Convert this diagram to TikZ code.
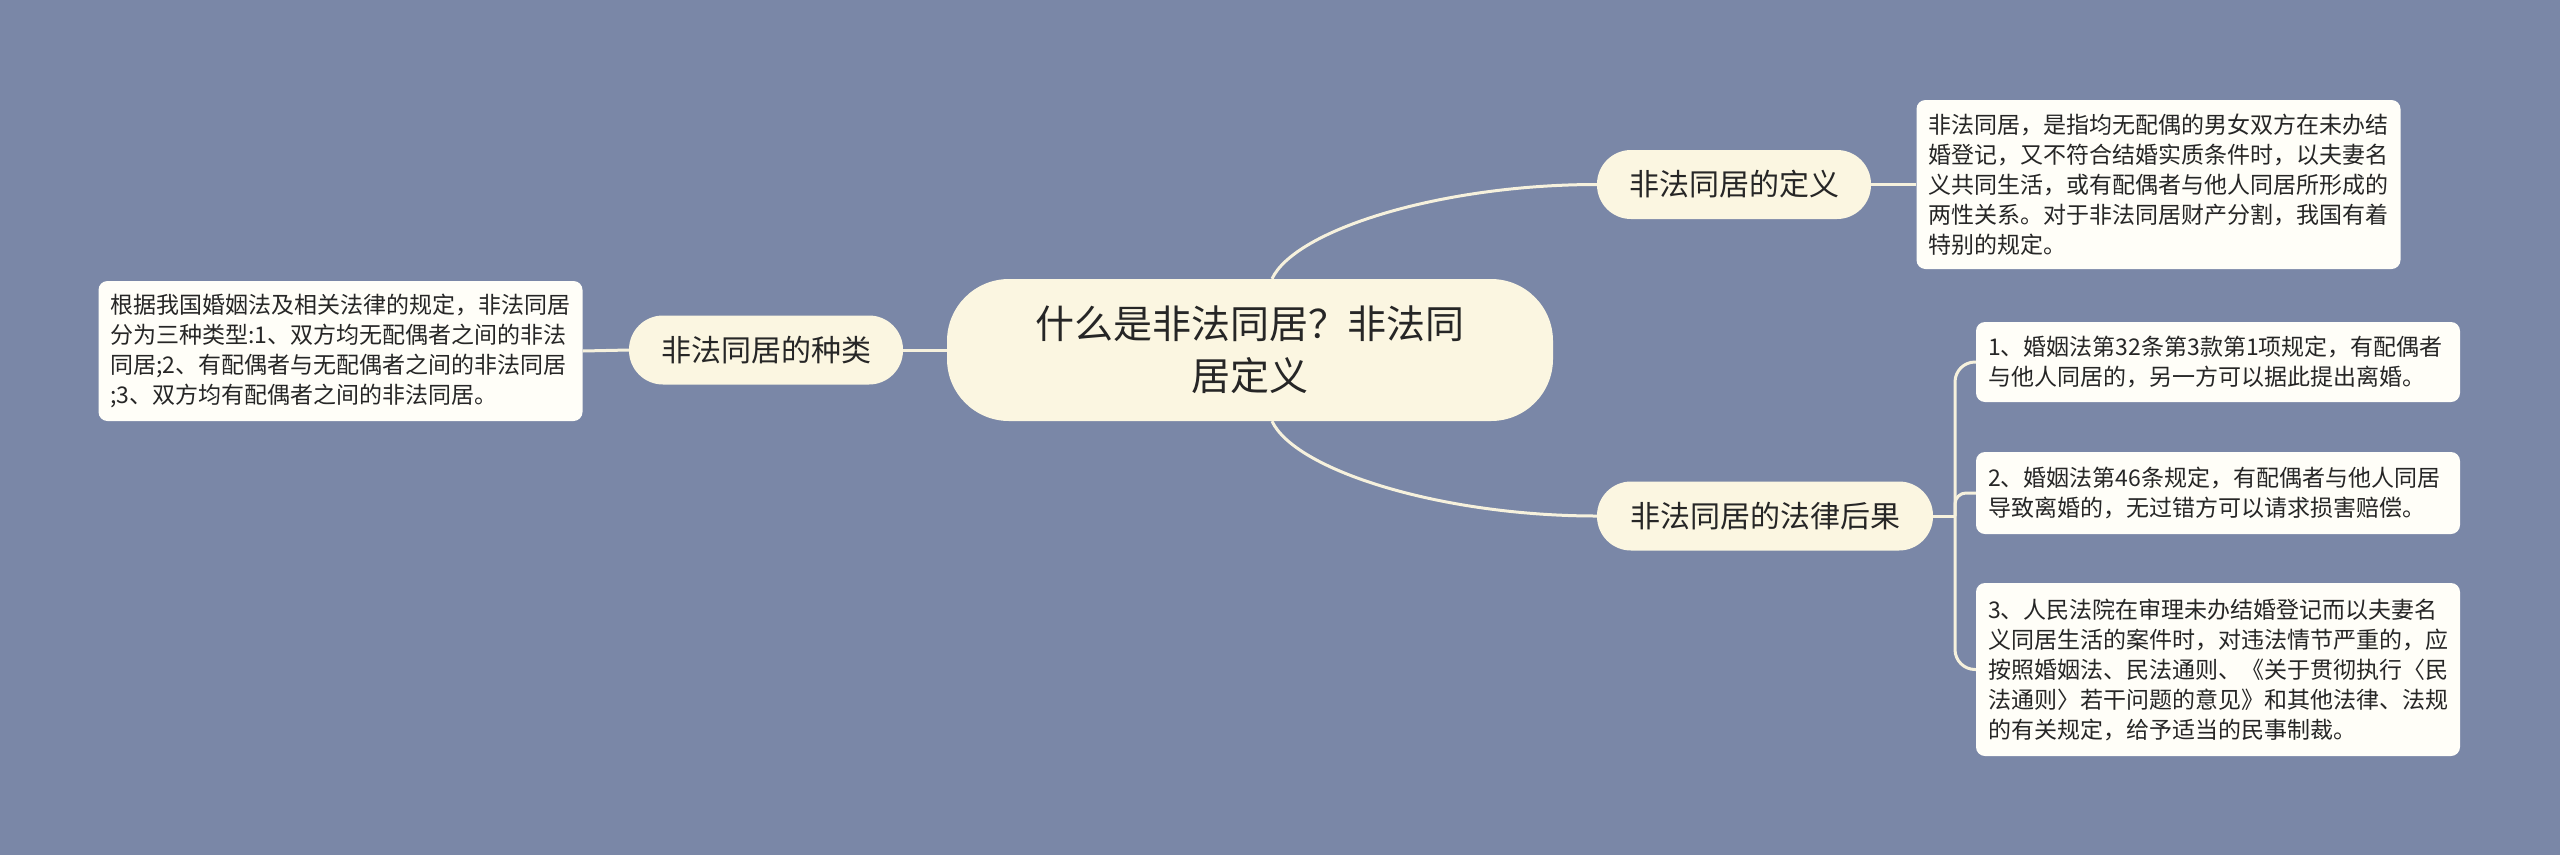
\documentclass[tikz,border=0pt]{standalone}
\usepackage{fontspec}
\newfontfamily\cjk{Noto Sans CJK SC}
\definecolor{bg}{HTML}{7A87A7}
\definecolor{cream}{HTML}{FBF6E1}
\definecolor{paper}{HTML}{FFFEF8}
\definecolor{linec}{HTML}{F6F1DD}
\definecolor{ink}{HTML}{262626}
\tikzset{
  conn/.style={draw=linec, line width=3pt},
  rootnode/.style={fill=cream, rounded corners=62pt, text=ink, align=center,
    font=\cjk\fontsize{39}{52}\selectfont, minimum width=606pt, minimum height=142pt, inner sep=0pt},
  branch/.style={fill=cream, rounded corners=34pt, text=ink, align=center,
    font=\cjk\fontsize{30}{36}\selectfont, minimum height=69pt, inner sep=0pt},
  leaf/.style={fill=paper, rounded corners=9pt, text=ink, align=left,
    font=\cjk\fontsize{23}{30}\selectfont, text width=460pt, inner xsep=12pt, inner ysep=0pt},
}
\begin{document}
\begin{tikzpicture}[x=1pt,y=-1pt]
\useasboundingbox[fill=bg] (0,0) rectangle (2560,855);

\node[rootnode] (c) at (1250,350) {什么是非法同居？非法同\\居定义};

\node[branch, minimum width=274pt] (kind) at (766,350) {非法同居的种类};
\node[leaf, minimum height=140pt] (lbox) at (340.5,351) {根据我国婚姻法及相关法律的规定，非法同居\\分为三种类型:1、双方均无配偶者之间的非法\\同居;2、有配偶者与无配偶者之间的非法同居\\;3、双方均有配偶者之间的非法同居。};

\node[branch, minimum width=274pt] (def) at (1734,184.5) {非法同居的定义};
\node[leaf, minimum height=169pt] (dbox) at (2158.5,184.5) {非法同居，是指均无配偶的男女双方在未办结\\婚登记，又不符合结婚实质条件时，以夫妻名\\义共同生活，或有配偶者与他人同居所形成的\\两性关系。对于非法同居财产分割，我国有着\\特别的规定。};

\node[branch, minimum width=336pt] (leg) at (1765,516) {非法同居的法律后果};
\node[leaf, minimum height=80pt] (b1) at (2218,362) {1、婚姻法第32条第3款第1项规定，有配偶者\\与他人同居的，另一方可以据此提出离婚。};
\node[leaf, minimum height=82pt] (b2) at (2218,493) {2、婚姻法第46条规定，有配偶者与他人同居\\导致离婚的，无过错方可以请求损害赔偿。};
\node[leaf, minimum height=173pt] (b3) at (2218,669.5) {3、人民法院在审理未办结婚登记而以夫妻名\\义同居生活的案件时，对违法情节严重的，应\\按照婚姻法、民法通则、《关于贯彻执行〈民\\法通则〉若干问题的意见》和其他法律、法规\\的有关规定，给予适当的民事制裁。};

\coordinate (fork) at (1955,516);

\draw[conn] ([xshift=22pt]c.north) .. controls (1295,230) and (1440,184.5) .. (def.west);
\draw[conn] ([xshift=22pt]c.south) .. controls (1295,470) and (1440,516) .. (leg.west);
\draw[conn] (c.west) -- (kind.east);
\draw[conn] (kind.west) -- (lbox.east);
\draw[conn] (def.east) -- (dbox.west);
\draw[conn] (leg.east) -- (fork);
\draw[conn, rounded corners=20pt] (fork) |- (b1.west);
\draw[conn, rounded corners=11pt] (fork) |- (b2.west);
\draw[conn, rounded corners=20pt] (fork) |- (b3.west);
\end{tikzpicture}
\end{document}
